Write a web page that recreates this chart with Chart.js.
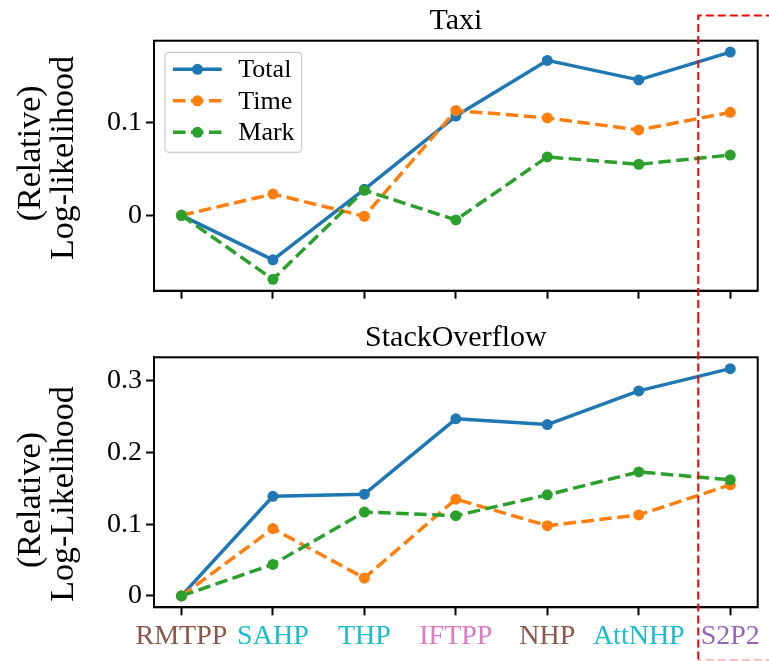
<!DOCTYPE html>
<html>
<head>
<meta charset="utf-8">
<script src="https://cdn.jsdelivr.net/npm/chart.js@4"></script>
<style>
  html, body { margin: 0; padding: 0; background: #fff; }
  #wrap { position: relative; width: 769px; height: 661px; }
  .panel { position: absolute; left: 0; width: 769px; }
  #panelTop { top: 0; height: 320px; }
  #panelBottom { top: 320px; height: 341px; }
</style>
</head>
<body>
<div id="wrap">
  <div class="panel" id="panelTop"><canvas id="taxiChart"></canvas></div>
  <div class="panel" id="panelBottom"><canvas id="soChart"></canvas></div>
</div>
<script>
// Modeller på x-axeln och deras färger
var categories = ['RMTPP', 'SAHP', 'THP', 'IFTPP', 'NHP', 'AttNHP', 'S2P2'];
var categoryColors = ['#8c564b', '#17becf', '#17becf', '#e377c2', '#8c564b', '#17becf', '#9467bd'];
var seriesNames = ['Total', 'Time', 'Mark'];

// Taxi (relativ log-likelihood)
var taxiTotal = [0, -0.048, 0.028, 0.107, 0.167, 0.146, 0.176];
var taxiTime = [0, 0.023, -0.001, 0.113, 0.105, 0.092, 0.111];
var taxiMark = [0, -0.069, 0.027, -0.005, 0.063, 0.055, 0.065];
var taxiTicks = [0, 0.1];

// StackOverflow (relativ log-likelihood)
var soTotal = [0, 0.139, 0.142, 0.247, 0.239, 0.286, 0.317];
var soTime = [0, 0.094, 0.025, 0.135, 0.098, 0.113, 0.155];
var soMark = [0, 0.044, 0.117, 0.112, 0.141, 0.173, 0.162];
var soTicks = [0, 0.1, 0.2, 0.3];

var serif = '"Liberation Serif", "Times New Roman", serif';
var lineColors = ['#1f77b4', '#ff7f0e', '#2ca02c'];
var lineDashes = [[], [12.5, 5.5], [12.5, 5.5]];
var highlightFrom = 5.65; // vänsterkant på den röda rutan runt S2P2

function toPoints(arr) {
    return arr.map(function (v, i) { return { x: i, y: v }; });
}

// Ram runt ritytan
var framePlugin = {
    id: 'frame',
    afterDraw: function (chart) {
        var a = chart.chartArea, ctx = chart.ctx;
        ctx.save();
        ctx.strokeStyle = '#000';
        ctx.lineWidth = 2;
        ctx.strokeRect(a.left, a.top, a.right - a.left, a.bottom - a.top);
        ctx.restore();
    }
};

// Legend inne i ritytan, linje + punkt som i matplotlib
var legendPlugin = {
    id: 'innerLegend',
    afterDraw: function (chart) {
        var a = chart.chartArea, ctx = chart.ctx;
        var bx = a.left + 11, by = a.top + 11.6, bw = 136.7, bh = 100;
        ctx.save();
        ctx.beginPath();
        ctx.roundRect(bx, by, bw, bh, 4);
        ctx.fillStyle = 'rgba(255,255,255,0.8)';
        ctx.fill();
        ctx.strokeStyle = '#cccccc';
        ctx.lineWidth = 1.2;
        ctx.stroke();
        chart.data.datasets.forEach(function (ds, i) {
            var y = a.top + 28.6 + i * 31.5;
            ctx.beginPath();
            ctx.setLineDash(ds.borderDash);
            ctx.strokeStyle = ds.borderColor;
            ctx.lineWidth = ds.borderWidth;
            ctx.moveTo(a.left + 19, y);
            ctx.lineTo(a.left + 67.7, y);
            ctx.stroke();
            ctx.setLineDash([]);
            ctx.beginPath();
            ctx.arc(a.left + 43.5, y, ds.pointRadius, 0, Math.PI * 2);
            ctx.fillStyle = ds.borderColor;
            ctx.fill();
            ctx.fillStyle = '#000';
            ctx.font = '26px ' + serif;
            ctx.textAlign = 'left';
            ctx.textBaseline = 'middle';
            ctx.fillText(ds.label, a.left + 84.3, y + 1);
        });
        ctx.restore();
    }
};

function yLabelPlugin(lines, shifts) {
    return {
        id: 'yLabel',
        afterDraw: function (chart) {
            var a = chart.chartArea, ctx = chart.ctx;
            var cy = (a.top + a.bottom) / 2;
            var baseX = [40, 73];
            ctx.save();
            ctx.fillStyle = '#000';
            ctx.font = '34px ' + serif;
            ctx.textAlign = 'center';
            ctx.textBaseline = 'alphabetic';
            lines.forEach(function (t, i) {
                ctx.save();
                ctx.translate(baseX[i], cy + shifts[i]);
                ctx.rotate(-Math.PI / 2);
                ctx.fillText(t, 0, 0);
                ctx.restore();
            });
            ctx.restore();
        }
    };
}

// Röd streckad ruta runt S2P2 (sträcker sig över båda panelerna)
function highlightPlugin(isTop) {
    return {
        id: 'highlight',
        afterDraw: function (chart) {
            var ctx = chart.ctx;
            var x0 = chart.scales.x.getPixelForValue(highlightFrom);
            var w = chart.width, h = chart.height;
            ctx.save();
            ctx.strokeStyle = '#ff0000';
            ctx.lineWidth = 2;
            ctx.setLineDash([8, 4]);
            ctx.beginPath();
            if (isTop) {
                ctx.moveTo(x0, h);
                ctx.lineTo(x0, 15.5);
                ctx.lineTo(w + 2, 15.5);
            } else {
                ctx.lineDashOffset = 4.5;
                ctx.moveTo(x0, 0);
                ctx.lineTo(x0, h - 1);
            }
            ctx.stroke();
            if (!isTop) {
                ctx.beginPath();
                ctx.strokeStyle = 'rgba(255,0,0,0.25)';
                ctx.moveTo(x0, h - 1);
                ctx.lineTo(w + 2, h - 1);
                ctx.stroke();
            }
            ctx.restore();
        }
    };
}

function makeChart(canvasId, title, titlePad, yLines, yShifts, total, time, mark, yTicks, isTop) {
    var all = total.concat(time, mark);
    var lo = Math.min.apply(null, all), hi = Math.max.apply(null, all);
    var margin = (hi - lo) * 0.05;
    var values = [total, time, mark];
    var plugins = [framePlugin, yLabelPlugin(yLines, yShifts), highlightPlugin(isTop)];
    if (isTop) plugins.push(legendPlugin);

    return new Chart(document.getElementById(canvasId), {
        type: 'line',
        data: {
            datasets: values.map(function (v, i) {
                return {
                    label: seriesNames[i],
                    data: toPoints(v),
                    borderColor: lineColors[i],
                    backgroundColor: lineColors[i],
                    borderWidth: 3.5,
                    borderDash: lineDashes[i],
                    borderCapStyle: 'butt',
                    borderJoinStyle: 'round',
                    pointRadius: 5.5,
                    pointBorderWidth: 0,
                    pointBackgroundColor: lineColors[i],
                    tension: 0,
                    order: 3 - i // Mark ritas överst
                };
            })
        },
        options: {
            responsive: true,
            maintainAspectRatio: false,
            animation: false,
            layout: { padding: { left: 0, right: 11.3, top: 0, bottom: 0 } },
            plugins: {
                legend: { display: false },
                tooltip: { enabled: false },
                title: {
                    display: true,
                    text: title,
                    fullSize: false,
                    color: '#000',
                    font: { family: serif, size: 30, weight: 'normal', lineHeight: 1.2 },
                    padding: titlePad
                }
            },
            scales: {
                x: {
                    type: 'linear',
                    min: -0.3,
                    max: categories.length - 1 + 0.3,
                    afterBuildTicks: function (s) {
                        s.ticks = categories.map(function (c, i) { return { value: i }; });
                    },
                    afterFit: function (s) { s.height = isTop ? 29.3 : 53.7; },
                    ticks: {
                        display: !isTop,
                        autoSkip: false,
                        maxRotation: 0,
                        minRotation: 0,
                        padding: 5,
                        font: { family: serif, size: 28 },
                        color: function (ctx) { return categoryColors[ctx.tick.value]; },
                        callback: function (v) { return categories[v]; }
                    },
                    grid: { drawOnChartArea: false, drawTicks: true, tickLength: 8, tickWidth: 2, tickColor: '#000' },
                    border: { display: true, color: '#000', width: 2 }
                },
                y: {
                    type: 'linear',
                    min: lo - margin,
                    max: hi + margin,
                    afterBuildTicks: function (s) {
                        s.ticks = yTicks.map(function (v) { return { value: v }; });
                    },
                    afterFit: function (s) { s.width = 154; },
                    ticks: {
                        padding: 4,
                        color: '#000',
                        font: { family: serif, size: 28 },
                        callback: function (v) { return v === 0 ? '0' : String(v); }
                    },
                    grid: { drawOnChartArea: false, drawTicks: true, tickLength: 8, tickWidth: 2, tickColor: '#000' },
                    border: { display: true, color: '#000', width: 2 }
                }
            }
        },
        plugins: plugins
    });
}

makeChart('taxiChart', 'Taxi', { top: 3.3, bottom: 1.4 }, ['(Relative)', 'Log-likelihood'], [-12.3, -7.7],
    taxiTotal, taxiTime, taxiMark, taxiTicks, true);
makeChart('soChart', 'StackOverflow', { top: 0.3, bottom: 1.0 }, ['(Relative)', 'Log-Likelihood'], [17.7, 11.7],
    soTotal, soTime, soMark, soTicks, false);
</script>
</body>
</html>
